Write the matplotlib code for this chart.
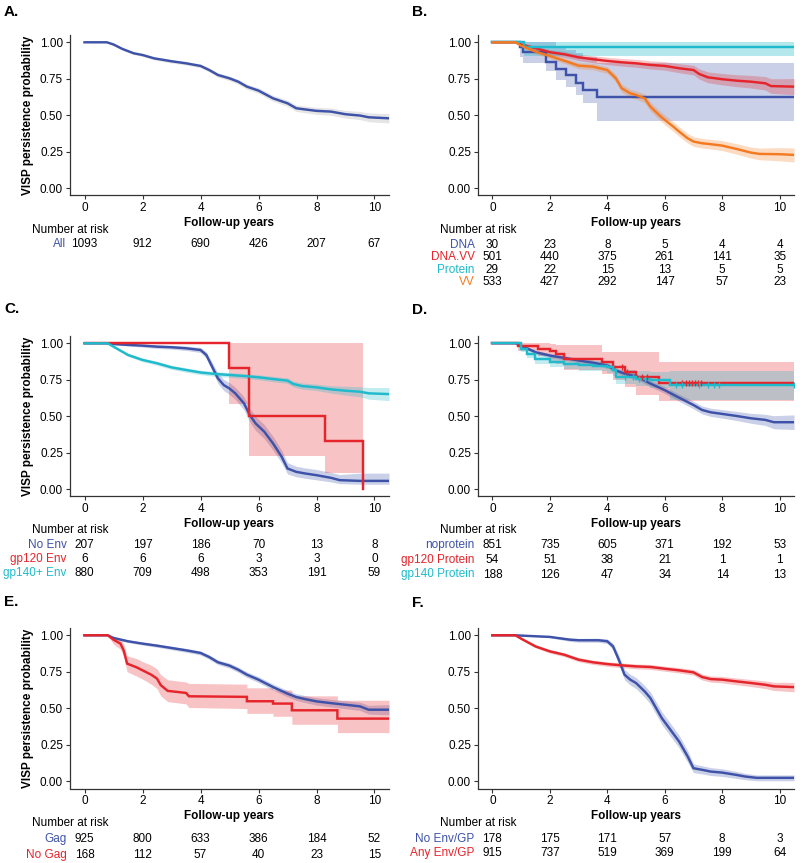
import numpy as np
import matplotlib
matplotlib.use("Agg")
from matplotlib import pyplot as plt
from matplotlib import transforms

plt.rcParams["font.family"] = ["Liberation Sans", "DejaVu Sans"]

BLUE = "#3D52A8"
RED = "#E5242B"
CYAN = "#1FBACB"
ORANGE = "#F47A22"

RISK_TIMES = [0, 2, 4, 6, 8, 10]

# ---- A: all participants
a_all_t = [0, 0.77, 1.0, 1.3, 1.69, 2.0, 2.4, 3.0, 3.5, 4.0, 4.3, 4.6, 5.0, 5.3, 5.6, 6.0,
           6.5, 7.0, 7.3, 7.6, 8.0, 8.5, 9.0, 9.5, 9.8, 10.5]
a_all_s = [1.0, 1.0, 0.985, 0.955, 0.925, 0.913, 0.89, 0.87, 0.856, 0.838, 0.81, 0.776, 0.753,
           0.73, 0.696, 0.669, 0.616, 0.582, 0.548, 0.54, 0.53, 0.525, 0.507, 0.498, 0.486, 0.479]
a_all_w = [0, 0, 0.006, 0.008, 0.009, 0.01, 0.011, 0.012, 0.012, 0.013, 0.014, 0.015, 0.016,
           0.017, 0.018, 0.019, 0.02, 0.021, 0.022, 0.023, 0.024, 0.025, 0.026, 0.028, 0.03, 0.032]
a_risk_all = [1093, 912, 690, 426, 207, 67]

# ---- B: vaccine regimen
b_dna_t = [0, 0.95, 1.05, 1.88, 2.2, 2.55, 2.9, 3.17, 3.65, 10.5]
b_dna_s = [1.0, 0.967, 0.933, 0.868, 0.82, 0.775, 0.72, 0.675, 0.628, 0.628]
b_dna_lo = [1.0, 0.9, 0.856, 0.80, 0.742, 0.692, 0.64, 0.582, 0.463, 0.463]
b_dna_hi = [1.0, 1.0, 1.0, 1.0, 0.97, 0.95, 0.93, 0.9, 0.86, 0.86]

b_dnavv_t = [0, 0.9, 1.0, 1.5, 2, 2.5, 3, 3.5, 4, 4.5, 5, 5.5, 6, 6.5, 7, 7.2, 7.5, 8, 8.5, 9,
             9.5, 9.7, 10.5]
b_dnavv_s = [1, 1, 0.985, 0.96, 0.932, 0.918, 0.897, 0.884, 0.872, 0.863, 0.856, 0.845, 0.838,
             0.822, 0.81, 0.783, 0.76, 0.747, 0.737, 0.73, 0.719, 0.70, 0.696]
b_dnavv_w = [0, 0, 0.01, 0.015, 0.018, 0.02, 0.022, 0.024, 0.025, 0.026, 0.027, 0.028, 0.029,
             0.031, 0.033, 0.035, 0.037, 0.039, 0.041, 0.043, 0.046, 0.05, 0.055]

b_prot_t = [0, 1.0, 1.1, 10.5]
b_prot_s = [1.0, 1.0, 0.966, 0.966]
b_prot_lo = [1.0, 1.0, 0.905, 0.905]
b_prot_hi = [1.0, 1.0, 1.0, 1.0]

b_vv_t = [0, 0.8, 1.0, 1.5, 2, 2.5, 3, 3.5, 4, 4.3, 4.5, 4.8, 5, 5.3, 5.5, 5.8, 6, 6.3, 6.5,
          6.8, 7, 7.3, 7.5, 8, 8.5, 9, 9.3, 10, 10.5]
b_vv_s = [1, 1, 0.977, 0.936, 0.906, 0.874, 0.84, 0.833, 0.81, 0.753, 0.685, 0.65, 0.639, 0.616,
          0.559, 0.502, 0.468, 0.422, 0.388, 0.342, 0.32, 0.308, 0.304, 0.292, 0.269, 0.244,
          0.235, 0.233, 0.228]
b_vv_w = [0, 0, 0.01, 0.015, 0.017, 0.019, 0.021, 0.022, 0.023, 0.025, 0.027, 0.028, 0.029, 0.03,
          0.031, 0.032, 0.033, 0.033, 0.033, 0.033, 0.033, 0.033, 0.033, 0.034, 0.036, 0.038,
          0.04, 0.045, 0.048]

b_risk_dna = [30, 23, 8, 5, 4, 4]
b_risk_dnavv = [501, 440, 375, 261, 141, 35]
b_risk_prot = [29, 22, 15, 13, 5, 5]
b_risk_vv = [533, 427, 292, 147, 57, 23]

# ---- C: Env
c_noenv_t = [0, 0.8, 1.0, 1.5, 2, 2.5, 3, 3.5, 4, 4.2, 4.4, 4.6, 4.8, 5, 5.2, 5.5, 5.7, 5.9,
             6.2, 6.5, 6.8, 7, 7.3, 7.6, 8, 8.5, 8.8, 9.5, 10.5]
c_noenv_s = [1, 1, 0.995, 0.989, 0.984, 0.977, 0.973, 0.966, 0.954, 0.92, 0.84, 0.76, 0.714,
             0.69, 0.657, 0.588, 0.508, 0.451, 0.394, 0.314, 0.222, 0.142, 0.119, 0.108, 0.096,
             0.078, 0.062, 0.057, 0.057]
c_noenv_lo = [1, 1, 0.99, 0.981, 0.974, 0.965, 0.96, 0.951, 0.937, 0.898, 0.81, 0.725, 0.676,
              0.65, 0.615, 0.543, 0.461, 0.403, 0.346, 0.267, 0.18, 0.105, 0.085, 0.075, 0.064,
              0.05, 0.038, 0.034, 0.034]
c_noenv_hi = [1, 1, 1.0, 0.997, 0.994, 0.989, 0.986, 0.981, 0.971, 0.942, 0.87, 0.795, 0.752,
              0.73, 0.699, 0.633, 0.555, 0.499, 0.442, 0.361, 0.266, 0.182, 0.157, 0.146, 0.135,
              0.115, 0.1, 0.11, 0.11]

c_gp120_t = [0, 5.0, 5.66, 8.28, 9.62]
c_gp120_s = [1.0, 0.833, 0.5, 0.333, 0.0]
c_gp120_lo = [1.0, 0.584, 0.229, 0.112, 0.0]
c_gp120_hi = [1.0, 1.0, 1.0, 1.0, 0.0]

c_gp140_t = [0, 0.8, 1.0, 1.2, 1.5, 2, 2.5, 3, 3.5, 4, 4.5, 5, 5.5, 6, 6.5, 7, 7.2, 7.5, 8, 8.5,
             9, 9.5, 9.8, 10.5]
c_gp140_s = [1, 1, 0.977, 0.954, 0.92, 0.886, 0.863, 0.835, 0.817, 0.8, 0.79, 0.783, 0.776, 0.767,
             0.755, 0.744, 0.721, 0.707, 0.698, 0.684, 0.675, 0.668, 0.657, 0.652]
c_gp140_w = [0, 0, 0.006, 0.008, 0.01, 0.012, 0.013, 0.014, 0.015, 0.015, 0.016, 0.016, 0.017,
             0.017, 0.018, 0.019, 0.02, 0.021, 0.022, 0.025, 0.03, 0.035, 0.04, 0.045]

c_risk_noenv = [207, 197, 186, 70, 13, 8]
c_risk_gp120 = [6, 6, 6, 3, 3, 0]
c_risk_gp140 = [880, 709, 498, 353, 191, 59]

# ---- D: protein boost
d_noprot_t = [0, 0.8, 1.0, 1.5, 2, 2.5, 3, 3.5, 4, 4.3, 4.6, 5, 5.5, 6, 6.5, 7, 7.3, 7.6, 8,
              8.5, 9, 9.5, 9.8, 10.5]
d_noprot_s = [1, 1, 0.984, 0.939, 0.916, 0.9, 0.882, 0.867, 0.848, 0.814, 0.792, 0.774, 0.724,
              0.679, 0.627, 0.577, 0.543, 0.527, 0.516, 0.502, 0.486, 0.475, 0.459, 0.459]
d_noprot_w = [0, 0, 0.008, 0.012, 0.014, 0.015, 0.016, 0.017, 0.018, 0.019, 0.02, 0.021, 0.022,
              0.023, 0.025, 0.026, 0.027, 0.028, 0.029, 0.031, 0.034, 0.038, 0.045, 0.05]

d_gp120_t = [0, 0.9, 1.6, 2.0, 2.2, 2.5, 3.8, 4.2, 4.6, 5.0, 5.8, 10.5]
d_gp120_s = [1.0, 0.981, 0.963, 0.944, 0.926, 0.894, 0.871, 0.84, 0.80, 0.768, 0.729, 0.729]
d_gp120_lo = [1.0, 0.945, 0.915, 0.88, 0.86, 0.82, 0.79, 0.75, 0.70, 0.645, 0.606, 0.606]
d_gp120_hi = [1.0, 1.0, 1.0, 0.995, 0.99, 0.985, 0.94, 0.94, 0.94, 0.94, 0.875, 0.875]
d_gp120_cens = [4.5, 4.7, 5.2, 5.4, 6.6, 6.75, 6.85, 6.95, 7.05, 7.15, 7.25]

d_gp140_t = [0, 0.8, 1.0, 1.2, 1.5, 2, 2.5, 3, 3.5, 4, 4.2, 4.3, 5, 5.5, 6.2, 10.5]
d_gp140_s = [1, 1, 0.962, 0.928, 0.894, 0.871, 0.86, 0.848, 0.844, 0.837, 0.814, 0.769, 0.758,
             0.747, 0.713, 0.713]
d_gp140_w = [0, 0, 0.02, 0.03, 0.035, 0.035, 0.036, 0.037, 0.037, 0.038, 0.04, 0.045, 0.05,
             0.055, 0.1, 0.1]
d_gp140_cens = [4.6, 4.9, 5.1, 5.3, 6.4, 6.6, 7.2, 7.5, 7.7, 7.9, 10.5]

d_risk_noprot = [851, 735, 605, 371, 192, 53]
d_risk_gp120 = [54, 51, 38, 21, 1, 1]
d_risk_gp140 = [188, 126, 47, 34, 14, 13]

# ---- E: Gag
e_gag_t = [0, 0.8, 1.0, 1.5, 2, 2.5, 3, 3.5, 4, 4.3, 4.6, 5, 5.3, 5.6, 6, 6.5, 7, 7.3, 7.6, 8,
           8.5, 9, 9.5, 9.8, 10.5]
e_gag_s = [1, 1, 0.982, 0.959, 0.943, 0.929, 0.913, 0.897, 0.879, 0.851, 0.815, 0.792, 0.764,
           0.73, 0.696, 0.645, 0.6, 0.577, 0.563, 0.547, 0.535, 0.524, 0.513, 0.49, 0.49]
e_gag_w = [0, 0, 0.006, 0.009, 0.01, 0.011, 0.012, 0.013, 0.014, 0.015, 0.016, 0.017, 0.018,
           0.019, 0.02, 0.021, 0.022, 0.023, 0.024, 0.025, 0.026, 0.027, 0.028, 0.03, 0.035]

e_nogag_t = [0, 0.8, 1.0, 1.24, 1.35, 1.47, 1.8, 2.0, 2.3, 2.5, 2.63, 2.87, 3.5, 3.6, 5.6, 5.6,
             6.5, 6.5, 7.15, 7.15, 8.72, 8.72, 10.5]
e_nogag_s = [1, 1, 0.97, 0.943, 0.897, 0.806, 0.78, 0.76, 0.73, 0.703, 0.658, 0.619, 0.605,
             0.582, 0.578, 0.548, 0.548, 0.532, 0.532, 0.486, 0.486, 0.429, 0.429]
e_nogag_lo = [1, 1, 0.94, 0.905, 0.855, 0.75, 0.72, 0.70, 0.665, 0.635, 0.585, 0.545, 0.53,
              0.505, 0.498, 0.465, 0.465, 0.445, 0.445, 0.39, 0.39, 0.333, 0.333]
e_nogag_hi = [1, 1, 0.99, 0.975, 0.94, 0.86, 0.84, 0.82, 0.795, 0.77, 0.73, 0.695, 0.68, 0.67,
              0.665, 0.64, 0.64, 0.625, 0.625, 0.585, 0.585, 0.555, 0.555]

e_risk_gag = [925, 800, 633, 386, 184, 52]
e_risk_nogag = [168, 112, 57, 40, 23, 15]

# ---- F: any Env/GP
f_noenv_t = [0, 0.8, 1.0, 2.0, 2.7, 3.0, 3.7, 4.0, 4.2, 4.4, 4.6, 4.8, 5.0, 5.3, 5.5, 5.7, 5.9,
             6.2, 6.5, 6.8, 7.0, 7.3, 7.6, 8.0, 8.5, 8.8, 9.2, 10.5]
f_noenv_s = [1, 1, 0.998, 0.989, 0.97, 0.966, 0.966, 0.959, 0.924, 0.833, 0.73, 0.696, 0.673,
             0.616, 0.57, 0.501, 0.432, 0.352, 0.272, 0.169, 0.089, 0.078, 0.066, 0.059, 0.043,
             0.032, 0.023, 0.023]
f_noenv_w = [0, 0, 0.002, 0.006, 0.012, 0.013, 0.014, 0.016, 0.022, 0.03, 0.035, 0.037, 0.038,
             0.04, 0.042, 0.043, 0.044, 0.044, 0.043, 0.04, 0.03, 0.028, 0.027, 0.026, 0.024,
             0.022, 0.02, 0.02]

f_any_t = [0, 0.8, 1.0, 1.5, 2, 2.5, 3, 3.5, 4, 4.5, 5, 5.5, 6, 6.5, 7, 7.3, 7.6, 8, 8.5, 9,
           9.5, 9.8, 10.5]
f_any_s = [1, 1, 0.977, 0.924, 0.89, 0.867, 0.833, 0.815, 0.803, 0.794, 0.787, 0.783, 0.771,
           0.76, 0.746, 0.714, 0.7, 0.696, 0.684, 0.673, 0.661, 0.65, 0.645]
f_any_w = [0, 0, 0.007, 0.01, 0.012, 0.013, 0.014, 0.015, 0.015, 0.016, 0.016, 0.017, 0.017,
           0.018, 0.019, 0.02, 0.021, 0.022, 0.023, 0.024, 0.026, 0.028, 0.032]

f_risk_noenv = [178, 175, 171, 57, 8, 3]
f_risk_any = [915, 737, 519, 369, 199, 64]


W, H = 800, 863
fig = plt.figure(figsize=(8, 8.63), dpi=100)


def fy(px):
    return 1 - px / H


def add_axes_px(left, top, width, height):
    return fig.add_axes([left / W, 1 - (top + height) / H, width / W, height / H])


def style_axes(ax, ylabel):
    ax.set_xlim(-0.5, 10.5)
    ax.set_ylim(-0.05, 1.05)
    ax.set_xticks(RISK_TIMES)
    ax.set_yticks([0, 0.25, 0.5, 0.75, 1.0])
    ax.set_yticklabels(["0.00", "0.25", "0.50", "0.75", "1.00"])
    for side in ("top", "right"):
        ax.spines[side].set_visible(False)
    for side in ("left", "bottom"):
        ax.spines[side].set_color("#333333")
        ax.spines[side].set_linewidth(0.9)
    ax.tick_params(labelsize=8.5, length=3, width=0.8, color="#333333", pad=2)
    ax.set_xlabel("Follow-up years", fontsize=8.5, fontweight="bold", labelpad=2)
    if ylabel:
        ax.set_ylabel("VISP persistence probability", fontsize=8.5, fontweight="bold", labelpad=4)


def band(ax, t, lo, hi, color, steps=False, alpha=0.27):
    ax.fill_between(t, np.clip(lo, 0, 1), np.clip(hi, 0, 1), color=color, alpha=alpha,
                    linewidth=0, step="post" if steps else None)


def band_w(ax, t, s, w, color, steps=False, alpha=0.27):
    s = np.asarray(s)
    w = np.asarray(w)
    band(ax, t, s - w, s + w, color, steps, alpha)


def curve(ax, t, s, color, steps=False):
    ax.plot(t, s, color=color, linewidth=1.75, drawstyle="steps-post" if steps else "default",
            solid_joinstyle="miter")


def censor(ax, t, s, times, color):
    idx = np.searchsorted(t, times, side="right") - 1
    ax.plot(times, np.asarray(s)[idx], linestyle="none", marker="|", markersize=4,
            markeredgewidth=1.0, color=color)


def risk_table(ax, rows, title_y, row_y):
    trans = transforms.blended_transform_factory(ax.transData, fig.transFigure)
    ax.text(-1.82, fy(title_y), "Number at risk", transform=trans, ha="left", va="center",
            fontsize=8.5)
    for (name, counts, color), y in zip(rows, row_y):
        ax.text(-0.62, fy(y), name, transform=trans, ha="right", va="center", fontsize=8.5,
                color=color)
        for x, n in zip(RISK_TIMES, counts):
            ax.text(x, fy(y), str(n), transform=trans, ha="center", va="center", fontsize=8.5)


LEFT_X, RIGHT_X = 70, 478
LEFT_W, RIGHT_W = 319, 316
ROW_TOP = [35, 336, 628]
AX_H = 160.5

axA = add_axes_px(LEFT_X, ROW_TOP[0], LEFT_W, AX_H)
axB = add_axes_px(RIGHT_X, ROW_TOP[0], RIGHT_W, AX_H)
axC = add_axes_px(LEFT_X, ROW_TOP[1], LEFT_W, AX_H)
axD = add_axes_px(RIGHT_X, ROW_TOP[1], RIGHT_W, AX_H)
axE = add_axes_px(LEFT_X, ROW_TOP[2], LEFT_W, AX_H)
axF = add_axes_px(RIGHT_X, ROW_TOP[2], RIGHT_W, AX_H)

# A
band_w(axA, a_all_t, a_all_s, a_all_w, "#8A8A8A", alpha=0.22)
curve(axA, a_all_t, a_all_s, BLUE)
style_axes(axA, True)
risk_table(axA, [("All", a_risk_all, BLUE)], 230, [244])

# B
band(axB, b_dna_t, b_dna_lo, b_dna_hi, BLUE, steps=True)
band_w(axB, b_dnavv_t, b_dnavv_s, b_dnavv_w, RED)
band(axB, b_prot_t, b_prot_lo, b_prot_hi, CYAN, steps=True, alpha=0.33)
band_w(axB, b_vv_t, b_vv_s, b_vv_w, ORANGE)
curve(axB, b_dna_t, b_dna_s, BLUE, steps=True)
curve(axB, b_dnavv_t, b_dnavv_s, RED)
curve(axB, b_prot_t, b_prot_s, CYAN, steps=True)
curve(axB, b_vv_t, b_vv_s, ORANGE)
style_axes(axB, False)
risk_table(axB, [("DNA", b_risk_dna, BLUE), ("DNA.VV", b_risk_dnavv, RED),
                 ("Protein", b_risk_prot, CYAN), ("VV", b_risk_vv, ORANGE)],
           230, [245, 257.3, 269.6, 282])

# C
band(axC, c_noenv_t, c_noenv_lo, c_noenv_hi, BLUE)
band(axC, c_gp120_t, c_gp120_lo, c_gp120_hi, RED, steps=True)
band_w(axC, c_gp140_t, c_gp140_s, c_gp140_w, CYAN)
curve(axC, c_noenv_t, c_noenv_s, BLUE)
curve(axC, c_gp120_t, c_gp120_s, RED, steps=True)
curve(axC, c_gp140_t, c_gp140_s, CYAN)
style_axes(axC, True)
risk_table(axC, [("No Env", c_risk_noenv, BLUE), ("gp120 Env", c_risk_gp120, RED),
                 ("gp140+ Env", c_risk_gp140, CYAN)], 530, [545, 559, 573])

# D
band_w(axD, d_noprot_t, d_noprot_s, d_noprot_w, BLUE)
band(axD, d_gp120_t, d_gp120_lo, d_gp120_hi, RED, steps=True)
band_w(axD, d_gp140_t, d_gp140_s, d_gp140_w, CYAN, steps=True)
curve(axD, d_noprot_t, d_noprot_s, BLUE)
curve(axD, d_gp120_t, d_gp120_s, RED, steps=True)
curve(axD, d_gp140_t, d_gp140_s, CYAN, steps=True)
censor(axD, d_gp120_t, d_gp120_s, d_gp120_cens, RED)
censor(axD, d_gp140_t, d_gp140_s, d_gp140_cens, CYAN)
style_axes(axD, False)
risk_table(axD, [("noprotein", d_risk_noprot, BLUE), ("gp120 Protein", d_risk_gp120, RED),
                 ("gp140 Protein", d_risk_gp140, CYAN)], 530, [545, 559.5, 574.5])

# E
band_w(axE, e_gag_t, e_gag_s, e_gag_w, BLUE)
band(axE, e_nogag_t, e_nogag_lo, e_nogag_hi, RED)
curve(axE, e_gag_t, e_gag_s, BLUE)
curve(axE, e_nogag_t, e_nogag_s, RED)
style_axes(axE, True)
risk_table(axE, [("Gag", e_risk_gag, BLUE), ("No Gag", e_risk_nogag, RED)], 823, [839, 855])

# F
band_w(axF, f_noenv_t, f_noenv_s, f_noenv_w, BLUE)
band_w(axF, f_any_t, f_any_s, f_any_w, RED)
curve(axF, f_noenv_t, f_noenv_s, BLUE)
curve(axF, f_any_t, f_any_s, RED)
style_axes(axF, False)
risk_table(axF, [("No Env/GP", f_risk_noenv, BLUE), ("Any Env/GP", f_risk_any, RED)],
           823, [839, 853])

for label, x, y in [("A.", 4, 12), ("B.", 412, 12), ("C.", 4, 309), ("D.", 412, 310),
                    ("E.", 4, 602), ("F.", 412, 603)]:
    fig.text(x / W, fy(y), label, fontsize=11, fontweight="bold", ha="left", va="center")

fig.savefig("out.png", dpi=100)
